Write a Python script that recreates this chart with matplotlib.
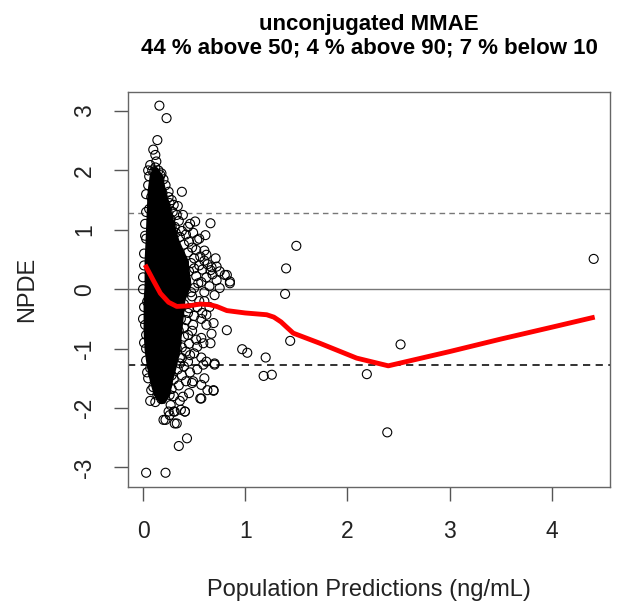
import matplotlib
matplotlib.use("Agg")
import matplotlib.pyplot as plt

plt.rcParams['font.family'] = ['Liberation Sans', 'DejaVu Sans']
plt.rcParams['axes.unicode_minus'] = False

# dense core of the cloud, read as its visible outline (y level, left x, right x)
core_y = [2.05, 1.92, 1.67, 1.28, 0.83, 0.49, 0.07, -0.18, -0.69, -1.02, -1.27, -1.53, -1.78, -1.92]
core_xl = [0.09, 0.06, 0.04, 0.03, 0.02, 0.01, 0.01, 0.00, 0.00, 0.01, 0.03, 0.06, 0.10, 0.16]
core_xr = [0.14, 0.19, 0.22, 0.28, 0.35, 0.44, 0.47, 0.41, 0.38, 0.36, 0.33, 0.29, 0.26, 0.21]

# individual points around the core and outliers
pred = [0.16, 0.23, 0.14, 0.10, 0.12, 0.07, 0.17, 0.25, 0.38, 0.26, 0.30, 0.51, 0.66, 0.61,
        0.44, 0.53, 0.62, 0.72, 0.82, 0.85, 0.66, 0.75, 0.85, 0.80, 0.82, 0.97, 1.02, 1.20,
        1.18, 1.26, 1.40, 1.50, 1.39, 1.44, 0.69, 0.57, 0.07, 0.35, 0.43, 0.03, 0.22, 0.26,
        0.31, 0.22, 0.41, 0.37, 0.30, 0.59, 0.70, 0.62, 0.59, 2.52, 2.19, 2.39, 4.41,
        0.70, 0.66, 0.57, 0.53, 0.69, 0.62, 0.57, 0.49, 0.44, 0.46, 0.38, 0.04, 0.03, 0.07,
        0.10, 0.33, 0.17, 0.26, 0.39, 0.56, 0.69, 0.57, 0.48, 0.25, 0.31, 0.41, 0.20, 0.33,
        0.22, 0.25, 0.28, 0.23, 0.29, 0.33, 0.27, 0.35, 0.31, 0.38, 0.42, 0.36, 0.45, 0.40,
        0.48, 0.52, 0.44, 0.56, 0.50, 0.60, 0.47, 0.55, 0.63, 0.58, 0.68, 0.62, 0.52, 0.72,
        0.57, 0.65, 0.50, 0.75, 0.60, 0.70, 0.48, 0.55, 0.65, 0.45, 0.58, 0.50, 0.42, 0.62,
        0.48, 0.40, 0.52, 0.45, 0.38, 0.42, 0.50, 0.36, 0.44, 0.40, 0.34, 0.46, 0.38, 0.30,
        0.42, 0.35, 0.28, 0.22, 0.30, 0.14, 0.10, 0.05, 0.03,
        0.03, 0.02, 0.01, 0.00, 0.01, 0.02, 0.03, 0.08, 0.06, 0.09, 0.12, 0.15, 0.18, 0.20,
        0.05, 0.08, 0.19, 0.21, 0.16, 0.24, 0.06, 0.03, 0.28, 0.32, 0.30, 0.36, 0.40, 0.45,
        0.50, 0.42, 0.47, 0.40, 0.44, 0.37, 0.35, 0.40, 0.33, 0.31, 0.36, 0.28, 0.24, 0.18,
        0.12, 0.04, 0.01, 0.00, 0.00, 0.01, 0.02, 0.03, 0.05, 0.13, 0.11, 0.54, 0.67, 0.71,
        0.60, 0.55, 0.49, 0.46, 0.39, 0.34, 0.53, 0.60, 0.67, 0.57, 0.53, 0.49, 0.60, 0.63,
        0.45, 0.36, 0.27]
npde = [3.09, 2.88, 2.51, 2.35, 2.26, 2.09, 1.92, 1.64, 1.64, 1.45, 1.42, 1.14, 1.11, 0.91,
        1.05, 0.83, 0.58, 0.38, 0.24, 0.13, 0.32, 0.30, 0.10, 0.24, -0.69, -1.01, -1.07, -1.15,
        -1.46, -1.44, 0.35, 0.73, -0.08, -0.87, -1.71, -1.84, -1.88, -2.64, -2.51, -3.09, -3.09, -2.12,
        -2.26, -2.20, -2.06, -2.03, -2.06, -1.27, -1.27, -1.22, -0.91, -0.93, -1.43, -2.41, 0.51,
        -1.25, -0.91, -0.82, -0.97, -0.57, -0.43, -0.50, -0.60, -0.77, -1.11, -1.16, -0.21, -0.77, -1.33,
        -1.44, -0.99, -1.70, -1.78, -1.81, -1.84, -1.70, -1.61, -1.58, -2.06, -2.06, -2.06, -2.20, -2.26,
        1.75, 1.55, 1.50, 1.38, 1.30, 1.25, 1.18, 1.15, 1.05, 0.98, 0.92, 0.88, 0.80, 0.75,
        0.70, 0.66, 0.62, 0.55, 0.52, 0.48, 0.44, 0.40, 0.42, 0.33, 0.25, 0.20, 0.22, 0.15,
        0.12, 0.05, 0.02, 0.02, -0.05, -0.10, -0.12, -0.20, -0.30, -0.32, -0.40, -0.45, -0.52, -0.60,
        -0.70, -0.80, -0.85, -0.92, -0.98, -1.05, -1.08, -1.15, -1.22, -1.30, -1.35, -1.40, -1.45, -1.52,
        -1.55, -1.62, -1.68, -1.72, -1.80, -1.78, -1.65, -1.50, -1.20,
        1.60, 1.10, 0.60, 0.20, -0.30, -0.60, -1.00, -1.70, 1.90, 2.00, 2.05, 2.00, 1.95, 1.85,
        1.75, 1.55, 1.62, 1.45, 1.85, 1.30, 1.35, 0.85, 1.05, 0.95, 0.70, 0.60, 0.45, 0.30,
        0.35, 0.15, -0.05, -0.25, -0.40, -0.50, -0.70, -0.65, -0.90, -1.10, -1.25, -1.45, -1.60, -1.85,
        -1.90, -1.40, -0.90, -0.50, 0.00, 0.40, 0.90, 1.30, 2.00, 2.15, 1.98, 0.10, 0.37, 0.52,
        0.65, 0.85, 0.95, 1.10, 1.25, 1.40, -0.30, -0.20, -0.75, -1.15, -1.35, -1.55, -1.50, -1.70,
        -1.75, -1.88, -1.95]

# smooth trend (red)
trend_x = [0.02, 0.10, 0.17, 0.25, 0.33, 0.45, 0.56, 0.65, 0.72, 0.82, 1.00, 1.21, 1.28, 1.35,
           1.40, 1.47, 1.73, 2.09, 2.40, 3.00, 3.50, 4.00, 4.42]
trend_y = [0.41, 0.15, -0.07, -0.22, -0.29, -0.28, -0.25, -0.26, -0.29, -0.36, -0.40, -0.43, -0.47, -0.55,
           -0.63, -0.74, -0.91, -1.16, -1.29, -1.05, -0.84, -0.64, -0.47]

q90 = 1.2816

fig = plt.figure(figsize=(6.17, 6.04), dpi=100)
ax = fig.add_axes([0.2075, 0.1937, 0.7812, 0.654])

ax.axhline(0, color='#777777', lw=1.0, zorder=1)
ax.axhline(q90, color='#777777', lw=1.0, ls=(0, (4, 3)), zorder=1)
ax.axhline(-q90, color='#222222', lw=1.3, ls=(0, (4, 3)), zorder=1)

ax.fill_betweenx(core_y, core_xl, core_xr, color='black', lw=0, zorder=2)
ax.scatter(pred, npde, s=42, facecolors='none', edgecolors='black', linewidths=0.8, zorder=3)
ax.plot(trend_x, trend_y, color='red', lw=3.5, zorder=4, solid_capstyle='butt')

ax.set_xlim(-0.147, 4.57)
ax.set_ylim(-3.33, 3.32)
ax.set_xticks([0, 1, 2, 3, 4])
ax.set_yticks([-3, -2, -1, 0, 1, 2, 3])
ax.tick_params(axis='both', length=10, width=1, color='#555555', labelsize=16.5, labelcolor='#222222')
ax.tick_params(axis='x', pad=14)
ax.tick_params(axis='y', pad=13)
for lab in ax.get_yticklabels():
    lab.set_rotation(90)
    lab.set_va('center')
for sp in ax.spines.values():
    sp.set_color('#666666')
    sp.set_linewidth(1.0)

ax.set_xlabel("Population Predictions (ng/mL)", fontsize=17, color='#222222', labelpad=26)
ax.set_ylabel("NPDE", fontsize=17, color='#222222', labelpad=25)
ax.set_title("unconjugated MMAE\n44 % above 50; 4 % above 90; 7 % below 10",
             fontsize=16, fontweight='bold', pad=28, linespacing=1.12)

fig.savefig("out.png", dpi=100)
